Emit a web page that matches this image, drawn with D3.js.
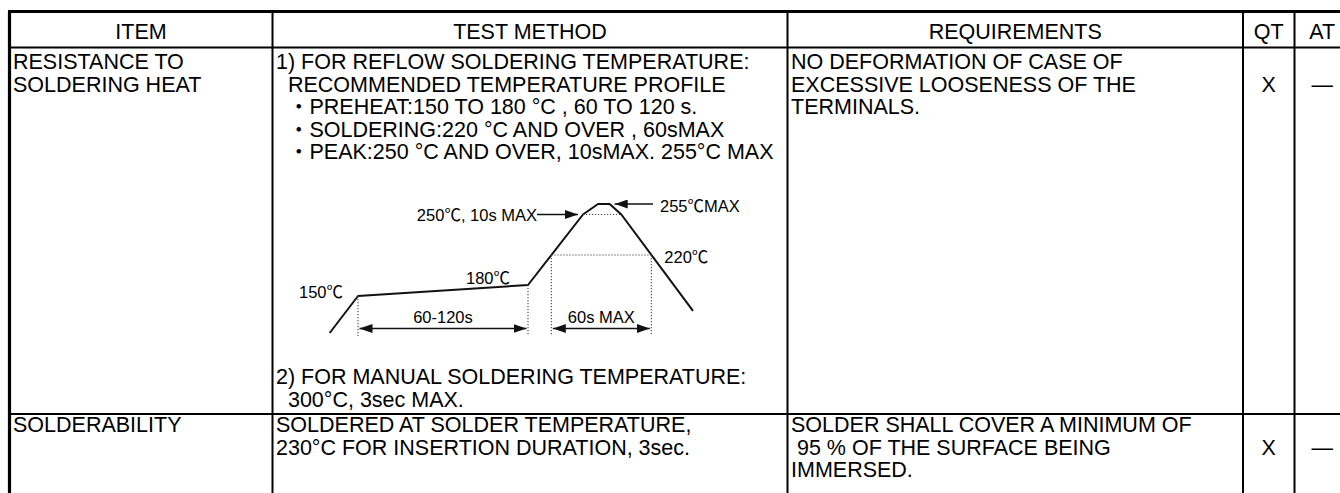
<!DOCTYPE html>
<html>
<head>
<meta charset="utf-8">
<script src="https://cdn.jsdelivr.net/npm/d3@7"></script>
<style>
body{margin:0;background:#fff;}
svg text{font-family:"Liberation Sans",Arial,"Noto Sans CJK JP",sans-serif;fill:#000;white-space:pre;}
</style>
</head>
<body>
<div id="sheet"></div>
<script>
// table content
const headers = ["ITEM", "TEST METHOD", "REQUIREMENTS", "QT", "AT"];
const itemText = [["RESISTANCE TO", "SOLDERING HEAT"], ["SOLDERABILITY"]];
const reflowText = [
  "1) FOR REFLOW SOLDERING TEMPERATURE:",
  "  RECOMMENDED TEMPERATURE PROFILE",
  "  ・PREHEAT:150 TO 180 °C , 60 TO 120 s.",
  "  ・SOLDERING:220 °C AND OVER , 60sMAX",
  "  ・PEAK:250 °C AND OVER, 10sMAX. 255°C MAX"
];
const manualText = ["2) FOR MANUAL SOLDERING TEMPERATURE:", "  300°C, 3sec MAX."];
const solderText = ["SOLDERED AT SOLDER TEMPERATURE,", "230°C FOR INSERTION DURATION, 3sec."];
const reqText = [
  ["NO DEFORMATION OF CASE OF", "EXCESSIVE LOOSENESS OF THE", "TERMINALS."],
  ["SOLDER SHALL COVER A MINIMUM OF", " 95 % OF THE SURFACE BEING", "IMMERSED."]
];
const qtMarks = ["X", "X"];
const atMarks = ["—", "—"];

// reflow profile (schematic): time in s, temperature in °C
const profileTime = [-17, 0, 102, 135, 144, 151, 158, 201];
const profileTemp = [100, 150, 180, 250, 255, 255, 250, 130];
const tempKnots = [100, 150, 180, 220, 250, 255];
const preheatWin = [0, 102];
const solderWin = [116, 176];
const peakWin = [135, 158];
const preheatLabel = "60-120s", solderLabel = "60s MAX";

const W = 1340, H = 493;
const lineH = 22.5;

const svg = d3.select("#sheet").append("svg")
    .attr("width", W).attr("height", H);

const defs = svg.append("defs");
function arrowMarker(id, orient){
  defs.append("marker")
    .attr("id", id)
    .attr("markerUnits", "userSpaceOnUse")
    .attr("viewBox", "0 0 13 9")
    .attr("refX", 13).attr("refY", 4.5)
    .attr("markerWidth", 13).attr("markerHeight", 9)
    .attr("orient", orient)
    .append("path").attr("d", "M0,0L13,4.5L0,9Z").attr("fill", "#111");
}
arrowMarker("arr", "auto");
arrowMarker("arr2", "auto-start-reverse");

// columns and rows
const colEdges = [9.5, 272.5, 787.5, 1243, 1294.5, 1350];
const colX = d3.scaleOrdinal().domain(headers).range(colEdges.slice(0, 5));
const colMid = d3.scaleOrdinal().domain(headers).range(colEdges.slice(0, 5).map((e, i) => (e + colEdges[i + 1]) / 2));
const rowEdges = [11.5, 47.5, 414, 500];
const firstLine = [21.5, 18];

const grid = svg.append("g").attr("stroke", "#000");
grid.selectAll(".v")
  .data(colEdges.slice(1, 5))
  .join("line").attr("class", "v")
    .attr("x1", d => d).attr("x2", d => d)
    .attr("y1", rowEdges[0]).attr("y2", H + 5)
    .attr("stroke-width", 2);
grid.selectAll(".h")
  .data(rowEdges.slice(1, 3))
  .join("line").attr("class", "h")
    .attr("x1", colEdges[0]).attr("x2", W + 5)
    .attr("y1", d => d).attr("y2", d => d)
    .attr("stroke-width", 2);
grid.append("line")
    .attr("x1", colEdges[0] - 1.5).attr("x2", W + 5)
    .attr("y1", rowEdges[0]).attr("y2", rowEdges[0])
    .attr("stroke-width", 3.2);
grid.append("line")
    .attr("x1", colEdges[0]).attr("x2", colEdges[0])
    .attr("y1", rowEdges[0]).attr("y2", H + 5)
    .attr("stroke-width", 3.2);

const txt = svg.append("g").attr("font-size", 21.5);

txt.selectAll(".hd")
  .data(headers)
  .join("text").attr("class", "hd")
    .attr("x", d => colMid(d))
    .attr("y", 38.5)
    .attr("text-anchor", "middle")
    .text(d => d);

function block(lines, x, y0, anchor){
  txt.append("g").selectAll("text")
    .data(lines)
    .join("text")
      .attr("x", x)
      .attr("y", (d, i) => y0 + i * lineH)
      .attr("text-anchor", anchor || "start")
      .text(d => d);
}

const pad = 3.5;
itemText.forEach((lines, r) => block(lines, colX("ITEM") + pad, rowEdges[r + 1] + firstLine[r]));
block(reflowText, colX("TEST METHOD") + pad, rowEdges[1] + firstLine[0]);
block(manualText, colX("TEST METHOD") + pad, rowEdges[1] + firstLine[0] + 14 * lineH);
block(solderText, colX("TEST METHOD") + pad, rowEdges[2] + firstLine[1]);
reqText.forEach((lines, r) => block(lines, colX("REQUIREMENTS") + pad, rowEdges[r + 1] + firstLine[r]));
qtMarks.forEach((m, r) => block([m], colMid("QT"), rowEdges[r + 1] + firstLine[r] + lineH, "middle"));
atMarks.forEach((m, r) => block([m], colMid("AT"), rowEdges[r + 1] + firstLine[r] + lineH, "middle"));

// reflow profile sketch
const x = d3.scaleLinear().domain(preheatWin).range([358, 528]);
const y = d3.scaleLinear().domain(tempKnots).range([333, 296, 285, 255, 214.5, 204]);
const base = 336, arrowY = 328.5;

const prof = svg.append("g");
prof.append("path")
    .datum(d3.zip(profileTime, profileTemp))
    .attr("d", d3.line().x(d => x(d[0])).y(d => y(d[1])))
    .attr("fill", "none").attr("stroke", "#111").attr("stroke-width", 2)
    .attr("stroke-linejoin", "round");

const dots = prof.append("g")
    .attr("stroke", "#444").attr("stroke-width", 1.1)
    .attr("stroke-dasharray", "1.2,1.8");
// vertical guides
dots.selectAll(".gv")
  .data([[preheatWin[0], 150], [preheatWin[1], 180], [solderWin[0], 220], [solderWin[1], 220]])
  .join("line")
    .attr("x1", d => x(d[0])).attr("x2", d => x(d[0]))
    .attr("y1", d => y(d[1])).attr("y2", base);
// horizontal guides
dots.selectAll(".gh")
  .data([[solderWin, 220], [peakWin, 250]])
  .join("line")
    .attr("x1", d => x(d[0][0])).attr("x2", d => x(d[0][1]))
    .attr("y1", d => y(d[1])).attr("y2", d => y(d[1]));

// window arrows
prof.selectAll(".win")
  .data([[preheatWin, preheatLabel], [solderWin, solderLabel]])
  .join("line")
    .attr("x1", d => x(d[0][0]) + 1.5).attr("x2", d => x(d[0][1]) - 1.5)
    .attr("y1", arrowY).attr("y2", arrowY)
    .attr("stroke", "#111").attr("stroke-width", 1.6)
    .attr("marker-start", "url(#arr2)").attr("marker-end", "url(#arr)");

const lab = prof.append("g").attr("font-size", 16.5);
lab.selectAll(".wl")
  .data([[preheatWin, preheatLabel], [solderWin, solderLabel]])
  .join("text")
    .attr("x", d => (x(d[0][0]) + x(d[0][1])) / 2)
    .attr("y", arrowY - 6)
    .attr("text-anchor", "middle")
    .text(d => d[1]);

lab.append("text").attr("x", x(preheatWin[0]) - 15).attr("y", y(150) + 1.5)
    .attr("text-anchor", "end").text("150℃");
lab.append("text").attr("x", x(preheatWin[1]) - 18).attr("y", y(180) - 1)
    .attr("text-anchor", "end").text("180℃");
lab.append("text").attr("x", x(solderWin[1]) + 13).attr("y", y(220) + 7.5)
    .text("220℃");
lab.append("text").attr("x", x(peakWin[0]) - 46).attr("y", y(250) + 6.5)
    .attr("text-anchor", "end").text("250℃, 10s MAX");
lab.append("text").attr("x", x(144) + 62).attr("y", y(255) + 8)
    .text("255℃MAX");

// pointer arrows to the peak
prof.append("line")
    .attr("x1", x(peakWin[0]) - 46).attr("x2", x(peakWin[0]) - 5)
    .attr("y1", y(250)).attr("y2", y(250))
    .attr("stroke", "#111").attr("stroke-width", 1.6)
    .attr("marker-end", "url(#arr)");
prof.append("line")
    .attr("x1", x(144) + 55).attr("x2", x(151) + 5)
    .attr("y1", y(255)).attr("y2", y(255))
    .attr("stroke", "#111").attr("stroke-width", 1.6)
    .attr("marker-end", "url(#arr)");
</script>
</body>
</html>
